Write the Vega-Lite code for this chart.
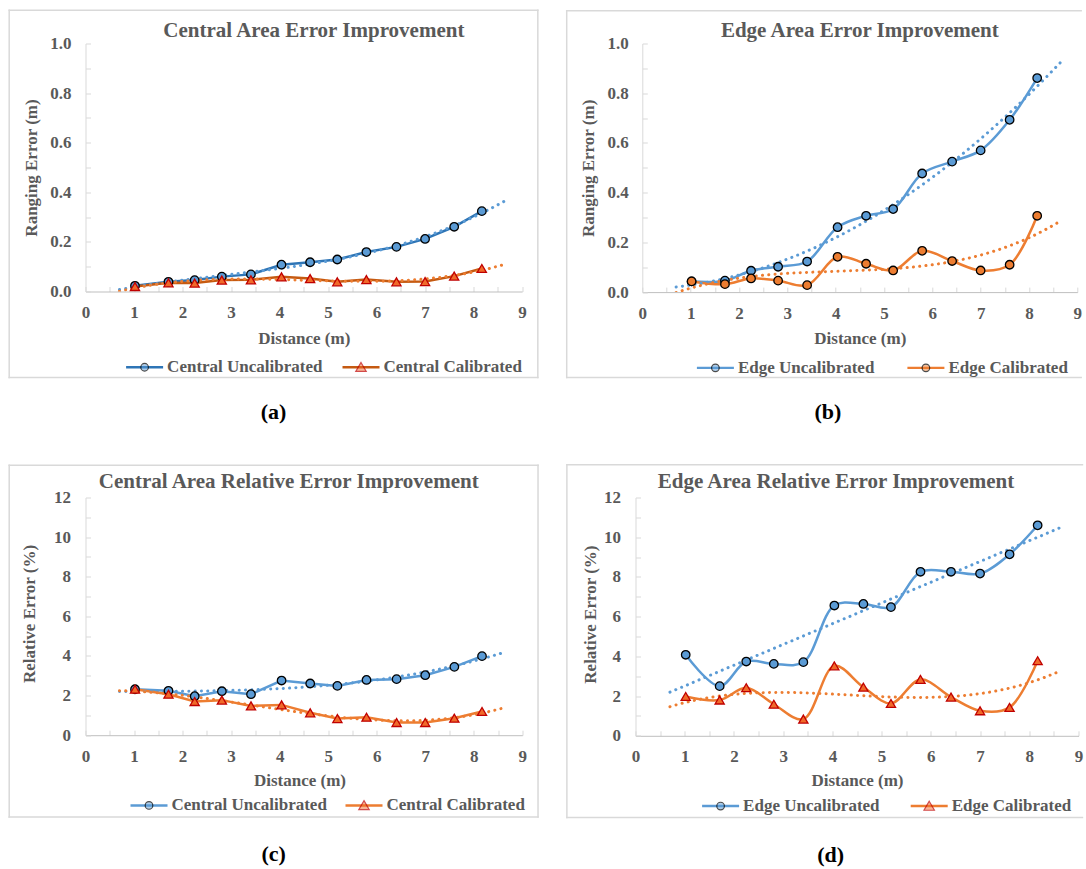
{
  "$schema": "https://vega.github.io/schema/vega-lite/v6.json",
  "background": "white",
  "padding": {"left": 7.5, "top": 8.5, "right": 0, "bottom": 0},
  "datasets": {
    "ca": [
      {"dist": 1.02, "val": 0.023, "series": "Central Uncalibrated"},
      {"dist": 1.71, "val": 0.039, "series": "Central Uncalibrated"},
      {"dist": 2.25, "val": 0.046, "series": "Central Uncalibrated"},
      {"dist": 2.81, "val": 0.060, "series": "Central Uncalibrated"},
      {"dist": 3.41, "val": 0.069, "series": "Central Uncalibrated"},
      {"dist": 4.04, "val": 0.108, "series": "Central Uncalibrated"},
      {"dist": 4.63, "val": 0.118, "series": "Central Uncalibrated"},
      {"dist": 5.19, "val": 0.129, "series": "Central Uncalibrated"},
      {"dist": 5.79, "val": 0.159, "series": "Central Uncalibrated"},
      {"dist": 6.41, "val": 0.180, "series": "Central Uncalibrated"},
      {"dist": 7.00, "val": 0.212, "series": "Central Uncalibrated"},
      {"dist": 7.60, "val": 0.261, "series": "Central Uncalibrated"},
      {"dist": 8.17, "val": 0.324, "series": "Central Uncalibrated"},
      {"dist": 1.02, "val": 0.020, "series": "Central Calibrated"},
      {"dist": 1.71, "val": 0.035, "series": "Central Calibrated"},
      {"dist": 2.25, "val": 0.034, "series": "Central Calibrated"},
      {"dist": 2.81, "val": 0.046, "series": "Central Calibrated"},
      {"dist": 3.41, "val": 0.047, "series": "Central Calibrated"},
      {"dist": 4.04, "val": 0.059, "series": "Central Calibrated"},
      {"dist": 4.63, "val": 0.052, "series": "Central Calibrated"},
      {"dist": 5.19, "val": 0.039, "series": "Central Calibrated"},
      {"dist": 5.79, "val": 0.048, "series": "Central Calibrated"},
      {"dist": 6.41, "val": 0.039, "series": "Central Calibrated"},
      {"dist": 7.00, "val": 0.040, "series": "Central Calibrated"},
      {"dist": 7.60, "val": 0.062, "series": "Central Calibrated"},
      {"dist": 8.17, "val": 0.093, "series": "Central Calibrated"}
    ],
    "ea": [
      {"dist": 1.02, "val": 0.043, "series": "Edge Uncalibrated"},
      {"dist": 1.71, "val": 0.046, "series": "Edge Uncalibrated"},
      {"dist": 2.25, "val": 0.086, "series": "Edge Uncalibrated"},
      {"dist": 2.81, "val": 0.102, "series": "Edge Uncalibrated"},
      {"dist": 3.41, "val": 0.123, "series": "Edge Uncalibrated"},
      {"dist": 4.04, "val": 0.261, "series": "Edge Uncalibrated"},
      {"dist": 4.63, "val": 0.307, "series": "Edge Uncalibrated"},
      {"dist": 5.19, "val": 0.334, "series": "Edge Uncalibrated"},
      {"dist": 5.79, "val": 0.477, "series": "Edge Uncalibrated"},
      {"dist": 6.41, "val": 0.525, "series": "Edge Uncalibrated"},
      {"dist": 7.00, "val": 0.570, "series": "Edge Uncalibrated"},
      {"dist": 7.60, "val": 0.693, "series": "Edge Uncalibrated"},
      {"dist": 8.17, "val": 0.861, "series": "Edge Uncalibrated"},
      {"dist": 1.02, "val": 0.043, "series": "Edge Calibrated"},
      {"dist": 1.71, "val": 0.032, "series": "Edge Calibrated"},
      {"dist": 2.25, "val": 0.055, "series": "Edge Calibrated"},
      {"dist": 2.81, "val": 0.046, "series": "Edge Calibrated"},
      {"dist": 3.41, "val": 0.028, "series": "Edge Calibrated"},
      {"dist": 4.04, "val": 0.142, "series": "Edge Calibrated"},
      {"dist": 4.63, "val": 0.114, "series": "Edge Calibrated"},
      {"dist": 5.19, "val": 0.087, "series": "Edge Calibrated"},
      {"dist": 5.79, "val": 0.166, "series": "Edge Calibrated"},
      {"dist": 6.41, "val": 0.125, "series": "Edge Calibrated"},
      {"dist": 7.00, "val": 0.087, "series": "Edge Calibrated"},
      {"dist": 7.60, "val": 0.110, "series": "Edge Calibrated"},
      {"dist": 8.17, "val": 0.307, "series": "Edge Calibrated"}
    ],
    "cr": [
      {"dist": 1.02, "val": 2.32, "series": "Central Uncalibrated"},
      {"dist": 1.71, "val": 2.24, "series": "Central Uncalibrated"},
      {"dist": 2.25, "val": 1.97, "series": "Central Uncalibrated"},
      {"dist": 2.81, "val": 2.22, "series": "Central Uncalibrated"},
      {"dist": 3.41, "val": 2.07, "series": "Central Uncalibrated"},
      {"dist": 4.04, "val": 2.76, "series": "Central Uncalibrated"},
      {"dist": 4.63, "val": 2.61, "series": "Central Uncalibrated"},
      {"dist": 5.19, "val": 2.49, "series": "Central Uncalibrated"},
      {"dist": 5.79, "val": 2.79, "series": "Central Uncalibrated"},
      {"dist": 6.41, "val": 2.83, "series": "Central Uncalibrated"},
      {"dist": 7.00, "val": 3.03, "series": "Central Uncalibrated"},
      {"dist": 7.60, "val": 3.45, "series": "Central Uncalibrated"},
      {"dist": 8.17, "val": 3.99, "series": "Central Uncalibrated"},
      {"dist": 1.02, "val": 2.32, "series": "Central Calibrated"},
      {"dist": 1.71, "val": 2.07, "series": "Central Calibrated"},
      {"dist": 2.25, "val": 1.70, "series": "Central Calibrated"},
      {"dist": 2.81, "val": 1.77, "series": "Central Calibrated"},
      {"dist": 3.41, "val": 1.48, "series": "Central Calibrated"},
      {"dist": 4.04, "val": 1.53, "series": "Central Calibrated"},
      {"dist": 4.63, "val": 1.13, "series": "Central Calibrated"},
      {"dist": 5.19, "val": 0.84, "series": "Central Calibrated"},
      {"dist": 5.79, "val": 0.91, "series": "Central Calibrated"},
      {"dist": 6.41, "val": 0.64, "series": "Central Calibrated"},
      {"dist": 7.00, "val": 0.64, "series": "Central Calibrated"},
      {"dist": 7.60, "val": 0.86, "series": "Central Calibrated"},
      {"dist": 8.17, "val": 1.20, "series": "Central Calibrated"}
    ],
    "er": [
      {"dist": 1.02, "val": 4.08, "series": "Edge Uncalibrated"},
      {"dist": 1.71, "val": 2.50, "series": "Edge Uncalibrated"},
      {"dist": 2.25, "val": 3.74, "series": "Edge Uncalibrated"},
      {"dist": 2.81, "val": 3.62, "series": "Edge Uncalibrated"},
      {"dist": 3.41, "val": 3.71, "series": "Edge Uncalibrated"},
      {"dist": 4.04, "val": 6.56, "series": "Edge Uncalibrated"},
      {"dist": 4.63, "val": 6.64, "series": "Edge Uncalibrated"},
      {"dist": 5.19, "val": 6.48, "series": "Edge Uncalibrated"},
      {"dist": 5.79, "val": 8.26, "series": "Edge Uncalibrated"},
      {"dist": 6.41, "val": 8.26, "series": "Edge Uncalibrated"},
      {"dist": 7.00, "val": 8.17, "series": "Edge Uncalibrated"},
      {"dist": 7.60, "val": 9.14, "series": "Edge Uncalibrated"},
      {"dist": 8.17, "val": 10.60, "series": "Edge Uncalibrated"},
      {"dist": 1.02, "val": 1.98, "series": "Edge Calibrated"},
      {"dist": 1.71, "val": 1.80, "series": "Edge Calibrated"},
      {"dist": 2.25, "val": 2.42, "series": "Edge Calibrated"},
      {"dist": 2.81, "val": 1.59, "series": "Edge Calibrated"},
      {"dist": 3.41, "val": 0.84, "series": "Edge Calibrated"},
      {"dist": 4.04, "val": 3.52, "series": "Edge Calibrated"},
      {"dist": 4.63, "val": 2.45, "series": "Edge Calibrated"},
      {"dist": 5.19, "val": 1.63, "series": "Edge Calibrated"},
      {"dist": 5.79, "val": 2.84, "series": "Edge Calibrated"},
      {"dist": 6.41, "val": 1.95, "series": "Edge Calibrated"},
      {"dist": 7.00, "val": 1.26, "series": "Edge Calibrated"},
      {"dist": 7.60, "val": 1.43, "series": "Edge Calibrated"},
      {"dist": 8.17, "val": 3.78, "series": "Edge Calibrated"}
    ]
  },
  "columns": 1,
  "align": "none",
  "spacing": 40,
  "resolve": {"scale": {"x": "independent", "y": "independent", "color": "independent", "shape": "independent", "fill": "independent", "stroke": "independent"}, "legend": {"color": "independent", "shape": "independent", "fill": "independent", "stroke": "independent"}},
  "concat": [
    {
      "spacing": 25.8,
      "resolve": {"scale": {"x": "independent", "y": "independent", "color": "independent", "shape": "independent", "fill": "independent", "stroke": "independent"}, "legend": {"color": "independent", "shape": "independent", "fill": "independent", "stroke": "independent"}},
      "hconcat": [
        {
          "title": {"text": "(a)", "orient": "bottom", "anchor": "middle", "baseline": "alphabetic", "offset": 40, "fontSize": 22, "color": "#000000"},
          "resolve": {"scale": {"x": "independent", "y": "independent", "color": "independent", "shape": "independent", "fill": "independent", "stroke": "independent"}, "legend": {"color": "independent", "shape": "independent", "fill": "independent", "stroke": "independent"}},
          "vconcat": [
            {
              "width": 436.6,
              "height": 248,
              "title": {"text": "Central Area Error Improvement", "anchor": "middle", "baseline": "alphabetic", "offset": -48.5, "dx": 10},
              "data": {"name": "ca"},
              "layer": [
                {"data": {"values": [{}]}, "mark": {"type": "rule", "color": "#d9d9d9", "strokeWidth": 1.5, "strokeCap": "square"}, "encoding": {"x": {"datum": -1.573}, "x2": {"datum": 9.324}, "y": {"datum": 1.134}}},
                {"data": {"values": [{}]}, "mark": {"type": "rule", "color": "#d9d9d9", "strokeWidth": 1.5, "strokeCap": "square"}, "encoding": {"x": {"datum": -1.573}, "x2": {"datum": 9.324}, "y": {"datum": -0.347}}},
                {"data": {"values": [{}]}, "mark": {"type": "rule", "color": "#d9d9d9", "strokeWidth": 1.5, "strokeCap": "square"}, "encoding": {"x": {"datum": -1.573}, "y": {"datum": 1.134}, "y2": {"datum": -0.347}}},
                {"data": {"values": [{}]}, "mark": {"type": "rule", "color": "#d9d9d9", "strokeWidth": 1.5, "strokeCap": "square"}, "encoding": {"x": {"datum": 9.324}, "y": {"datum": 1.134}, "y2": {"datum": -0.347}}},
                {
                  "mark": {"type": "line", "strokeWidth": 2.5, "interpolate": "linear"},
                  "encoding": {
                    "x": {"field": "dist", "type": "quantitative", "scale": {"domain": [0, 9], "nice": false, "zero": false},
                      "axis": {"title": "Distance (m)", "values": [0, 0.5, 1, 1.5, 2, 2.5, 3, 3.5, 4, 4.5, 5, 5.5, 6, 6.5, 7, 7.5, 8, 8.5, 9], "tickCount": 100, "labelExpr": "datum.value % 1 === 0 ? format(datum.value, 'd') : ''", "grid": false, "labelFlush": false, "labelOverlap": false, "labelPadding": 26.1, "labelBaseline": "middle", "titleY": 46.7, "titleBaseline": "middle", "domainColor": "#bfbfbf"}},
                    "y": {"field": "val", "type": "quantitative", "scale": {"domain": [0, 1], "nice": false},
                      "axis": {"title": "Ranging Error (m)", "values": [0, 0.1, 0.2, 0.3, 0.4, 0.5, 0.6, 0.7, 0.8, 0.9, 1], "tickCount": 100, "labelExpr": "round(datum.value * 10) % 2 === 0 ? format(datum.value, '.1f') : ''", "gridOpacity": {"condition": {"test": "round(datum.value * 10) % 2 === 0", "value": 1}, "value": 0}, "labelPadding": 19.5, "labelOverlap": false, "titleX": -53.7, "titleY": 124, "titleAngle": 270, "titleAlign": "center", "titleBaseline": "middle"}},
                    "color": {"field": "series", "type": "nominal", "scale": {"domain": ["Central Uncalibrated", "Central Calibrated"], "range": ["#2E75B6", "#C55A11"]},
                      "legend": {"title": null, "orient": "none", "legendX": 40.6, "legendY": 315, "direction": "horizontal", "columns": 2, "columnPadding": 19.4, "labelOffset": 24, "symbolSize": 64, "symbolStrokeWidth": 0,
                        "encode": {"symbols": {"update": {"shape": {"value": "M-2.125,-0.3H7.125V0.3H-2.125Z"}, "fill": {"signal": "datum.value === 'Central Uncalibrated' ? '#2E75B6' : '#C55A11'"}, "stroke": {"value": "transparent"}, "strokeWidth": {"value": 0}, "opacity": {"value": 1}}}}}}
                  }
                },
                {
                  "transform": [{"filter": "datum.series === 'Central Uncalibrated'"}, {"regression": "val", "on": "dist", "method": "poly", "order": 3, "extent": [0.7, 8.65]}],
                  "mark": {"type": "line", "color": "#5B9BD5", "strokeWidth": 3, "strokeDash": [0.1, 6.2], "strokeCap": "round", "clip": true},
                  "encoding": {"x": {"field": "dist", "type": "quantitative"}, "y": {"field": "val", "type": "quantitative"}}
                },
                {
                  "transform": [{"filter": "datum.series === 'Central Calibrated'"}, {"regression": "val", "on": "dist", "method": "poly", "order": 3, "extent": [0.7, 8.65]}],
                  "mark": {"type": "line", "color": "#ED7D31", "strokeWidth": 3, "strokeDash": [0.1, 6.2], "strokeCap": "round", "clip": true},
                  "encoding": {"x": {"field": "dist", "type": "quantitative"}, "y": {"field": "val", "type": "quantitative"}}
                },
                {
                  "transform": [{"filter": "datum.series === 'Central Uncalibrated'"}],
                  "mark": {"type": "point", "shape": "circle", "filled": true, "fill": "#5B9BD5", "stroke": "#000000", "size": 72, "strokeWidth": 1.3, "opacity": 1},
                  "encoding": {"x": {"field": "dist", "type": "quantitative"}, "y": {"field": "val", "type": "quantitative"}}
                },
                {
                  "transform": [{"filter": "datum.series === 'Central Calibrated'"}],
                  "mark": {"type": "point", "shape": "triangle-up", "filled": true, "fill": "#F06A2A", "stroke": "#C00000", "size": 84, "strokeWidth": 1.3, "opacity": 1},
                  "encoding": {"x": {"field": "dist", "type": "quantitative"}, "y": {"field": "val", "type": "quantitative"}}
                },
                {
                  "mark": {"type": "point", "filled": true, "size": 0, "strokeWidth": 1.2},
                  "encoding": {
                    "x": {"field": "dist", "type": "quantitative"},
                    "y": {"field": "val", "type": "quantitative"},
                    "shape": {"field": "series", "type": "nominal", "sort": "descending", "scale": {"range": ["M1.55,0A0.95,0.95,0,1,0,3.45,0A0.95,0.95,0,1,0,1.55,0Z", "M2.5,-1.2L3.8,1.05L1.2,1.05Z"]},
                      "legend": {"title": null, "orient": "none", "legendX": 40.6, "legendY": 315, "direction": "horizontal", "columns": 2, "columnPadding": 19.4, "labelOffset": 24, "labelOpacity": 0, "symbolSize": 64, "symbolStrokeWidth": 1.2}},
                    "fill": {"field": "series", "type": "nominal", "sort": "descending", "scale": {"range": ["#5B9BD5", "#F06A2A"]},
                      "legend": {"title": null, "orient": "none", "legendX": 40.6, "legendY": 315, "direction": "horizontal", "columns": 2, "columnPadding": 19.4, "labelOffset": 24, "labelOpacity": 0, "symbolSize": 64, "symbolStrokeWidth": 1.2}},
                    "stroke": {"field": "series", "type": "nominal", "sort": "descending", "scale": {"range": ["#000000", "#C00000"]},
                      "legend": {"title": null, "orient": "none", "legendX": 40.6, "legendY": 315, "direction": "horizontal", "columns": 2, "columnPadding": 19.4, "labelOffset": 24, "labelOpacity": 0, "symbolSize": 64, "symbolStrokeWidth": 1.2}}
                  }
                }
              ]
            }
          ]
        },
        {
          "title": {"text": "(b)", "orient": "bottom", "anchor": "middle", "baseline": "alphabetic", "offset": 40.5, "fontSize": 22, "color": "#000000", "dx": 4},
          "resolve": {"scale": {"x": "independent", "y": "independent", "color": "independent", "shape": "independent", "fill": "independent", "stroke": "independent"}, "legend": {"color": "independent", "shape": "independent", "fill": "independent", "stroke": "independent"}},
          "vconcat": [
            {
              "width": 435,
              "height": 248.6,
              "title": {"text": "Edge Area Error Improvement", "anchor": "middle", "baseline": "alphabetic", "offset": -48.5, "dx": 0},
              "data": {"name": "ea"},
              "layer": [
                {"data": {"values": [{}]}, "mark": {"type": "rule", "color": "#d9d9d9", "strokeWidth": 1.5, "strokeCap": "square"}, "encoding": {"x": {"datum": -1.564}, "x2": {"datum": 9.08}, "y": {"datum": 1.1316}}},
                {"data": {"values": [{}]}, "mark": {"type": "rule", "color": "#d9d9d9", "strokeWidth": 1.5, "strokeCap": "square"}, "encoding": {"x": {"datum": -1.564}, "x2": {"datum": 9.08}, "y": {"datum": -0.3435}}},
                {"data": {"values": [{}]}, "mark": {"type": "rule", "color": "#d9d9d9", "strokeWidth": 1.5, "strokeCap": "square"}, "encoding": {"x": {"datum": -1.564}, "y": {"datum": 1.1316}, "y2": {"datum": -0.3435}}},
                {
                  "mark": {"type": "line", "strokeWidth": 2.5, "interpolate": "catmull-rom"},
                  "encoding": {
                    "x": {"field": "dist", "type": "quantitative", "scale": {"domain": [0, 9], "nice": false, "zero": false},
                      "axis": {"title": "Distance (m)", "values": [0, 0.5, 1, 1.5, 2, 2.5, 3, 3.5, 4, 4.5, 5, 5.5, 6, 6.5, 7, 7.5, 8, 8.5, 9], "tickCount": 100, "labelExpr": "datum.value % 1 === 0 ? format(datum.value, 'd') : ''", "grid": false, "labelFlush": false, "labelOverlap": false, "labelPadding": 26.1, "labelBaseline": "middle", "titleY": 46, "titleBaseline": "middle", "domainColor": "#bfbfbf"}},
                    "y": {"field": "val", "type": "quantitative", "scale": {"domain": [0, 1], "nice": false},
                      "axis": {"title": "Ranging Error (m)", "values": [0, 0.1, 0.2, 0.3, 0.4, 0.5, 0.6, 0.7, 0.8, 0.9, 1], "tickCount": 100, "labelExpr": "round(datum.value * 10) % 2 === 0 ? format(datum.value, '.1f') : ''", "gridOpacity": {"condition": {"test": "round(datum.value * 10) % 2 === 0", "value": 1}, "value": 0}, "labelPadding": 19, "labelOverlap": false, "titleX": -53.8, "titleY": 124.3, "titleAngle": 270, "titleAlign": "center", "titleBaseline": "middle"}},
                    "color": {"field": "series", "type": "nominal", "scale": {"domain": ["Edge Uncalibrated", "Edge Calibrated"], "range": ["#5B9BD5", "#ED7D31"]},
                      "legend": {"title": null, "orient": "none", "legendX": 54.6, "legendY": 315.6, "direction": "horizontal", "columns": 2, "columnPadding": 32.5, "labelOffset": 24, "symbolSize": 64, "symbolStrokeWidth": 0,
                        "encode": {"symbols": {"update": {"shape": {"value": "M-2.125,-0.3H7.125V0.3H-2.125Z"}, "fill": {"signal": "datum.value === 'Edge Uncalibrated' ? '#5B9BD5' : '#ED7D31'"}, "stroke": {"value": "transparent"}, "strokeWidth": {"value": 0}, "opacity": {"value": 1}}}}}}
                  }
                },
                {
                  "transform": [{"filter": "datum.series === 'Edge Uncalibrated'"}, {"regression": "val", "on": "dist", "method": "poly", "order": 2, "extent": [0.7, 8.65]}],
                  "mark": {"type": "line", "color": "#5B9BD5", "strokeWidth": 3, "strokeDash": [0.1, 6.2], "strokeCap": "round", "clip": true},
                  "encoding": {"x": {"field": "dist", "type": "quantitative"}, "y": {"field": "val", "type": "quantitative"}}
                },
                {
                  "transform": [{"filter": "datum.series === 'Edge Calibrated'"}, {"regression": "val", "on": "dist", "method": "poly", "order": 3, "extent": [0.7, 8.65]}],
                  "mark": {"type": "line", "color": "#ED7D31", "strokeWidth": 3, "strokeDash": [0.1, 6.2], "strokeCap": "round", "clip": true},
                  "encoding": {"x": {"field": "dist", "type": "quantitative"}, "y": {"field": "val", "type": "quantitative"}}
                },
                {
                  "transform": [{"filter": "datum.series === 'Edge Uncalibrated'"}],
                  "mark": {"type": "point", "shape": "circle", "filled": true, "fill": "#5B9BD5", "stroke": "#000000", "size": 72, "strokeWidth": 1.3, "opacity": 1},
                  "encoding": {"x": {"field": "dist", "type": "quantitative"}, "y": {"field": "val", "type": "quantitative"}}
                },
                {
                  "transform": [{"filter": "datum.series === 'Edge Calibrated'"}],
                  "mark": {"type": "point", "shape": "circle", "filled": true, "fill": "#ED7D31", "stroke": "#000000", "size": 72, "strokeWidth": 1.3, "opacity": 1},
                  "encoding": {"x": {"field": "dist", "type": "quantitative"}, "y": {"field": "val", "type": "quantitative"}}
                },
                {
                  "mark": {"type": "point", "filled": true, "size": 0, "strokeWidth": 1.2},
                  "encoding": {
                    "x": {"field": "dist", "type": "quantitative"},
                    "y": {"field": "val", "type": "quantitative"},
                    "shape": {"field": "series", "type": "nominal", "sort": "descending", "scale": {"range": ["M1.55,0A0.95,0.95,0,1,0,3.45,0A0.95,0.95,0,1,0,1.55,0Z", "M1.55,0A0.95,0.95,0,1,0,3.45,0A0.95,0.95,0,1,0,1.55,0Z"]},
                      "legend": {"title": null, "orient": "none", "legendX": 54.6, "legendY": 315.6, "direction": "horizontal", "columns": 2, "columnPadding": 32.5, "labelOffset": 24, "labelOpacity": 0, "symbolSize": 64, "symbolStrokeWidth": 1.2}},
                    "fill": {"field": "series", "type": "nominal", "sort": "descending", "scale": {"range": ["#5B9BD5", "#ED7D31"]},
                      "legend": {"title": null, "orient": "none", "legendX": 54.6, "legendY": 315.6, "direction": "horizontal", "columns": 2, "columnPadding": 32.5, "labelOffset": 24, "labelOpacity": 0, "symbolSize": 64, "symbolStrokeWidth": 1.2}},
                    "stroke": {"field": "series", "type": "nominal", "sort": "descending", "scale": {"range": ["#000000", "#000000"]},
                      "legend": {"title": null, "orient": "none", "legendX": 54.6, "legendY": 315.6, "direction": "horizontal", "columns": 2, "columnPadding": 32.5, "labelOffset": 24, "labelOpacity": 0, "symbolSize": 64, "symbolStrokeWidth": 1.2}}
                  }
                }
              ]
            }
          ]
        }
      ]
    },
    {
      "spacing": 26,
      "resolve": {"scale": {"x": "independent", "y": "independent", "color": "independent", "shape": "independent", "fill": "independent", "stroke": "independent"}, "legend": {"color": "independent", "shape": "independent", "fill": "independent", "stroke": "independent"}},
      "hconcat": [
        {
          "title": {"text": "(c)", "orient": "bottom", "anchor": "middle", "baseline": "alphabetic", "offset": 43.3, "fontSize": 22, "color": "#000000"},
          "resolve": {"scale": {"x": "independent", "y": "independent", "color": "independent", "shape": "independent", "fill": "independent", "stroke": "independent"}, "legend": {"color": "independent", "shape": "independent", "fill": "independent", "stroke": "independent"}},
          "vconcat": [
            {
              "width": 436.8,
              "height": 237.7,
              "title": {"text": "Central Area Relative Error Improvement", "anchor": "middle", "baseline": "alphabetic", "offset": -44.7, "dx": -15.2},
              "data": {"name": "cr"},
              "layer": [
                {"data": {"values": [{}]}, "mark": {"type": "rule", "color": "#d9d9d9", "strokeWidth": 1.5, "strokeCap": "square"}, "encoding": {"x": {"datum": -1.572}, "x2": {"datum": 9.324}, "y": {"datum": 13.63}}},
                {"data": {"values": [{}]}, "mark": {"type": "rule", "color": "#d9d9d9", "strokeWidth": 1.5, "strokeCap": "square"}, "encoding": {"x": {"datum": -1.572}, "x2": {"datum": 9.324}, "y": {"datum": -4.124}}},
                {"data": {"values": [{}]}, "mark": {"type": "rule", "color": "#d9d9d9", "strokeWidth": 1.5, "strokeCap": "square"}, "encoding": {"x": {"datum": -1.572}, "y": {"datum": 13.63}, "y2": {"datum": -4.124}}},
                {"data": {"values": [{}]}, "mark": {"type": "rule", "color": "#d9d9d9", "strokeWidth": 1.5, "strokeCap": "square"}, "encoding": {"x": {"datum": 9.324}, "y": {"datum": 13.63}, "y2": {"datum": -4.124}}},
                {
                  "mark": {"type": "line", "strokeWidth": 2.5, "interpolate": "linear"},
                  "encoding": {
                    "x": {"field": "dist", "type": "quantitative", "scale": {"domain": [0, 9], "nice": false, "zero": false},
                      "axis": {"title": "Distance (m)", "values": [0, 0.5, 1, 1.5, 2, 2.5, 3, 3.5, 4, 4.5, 5, 5.5, 6, 6.5, 7, 7.5, 8, 8.5, 9], "tickCount": 100, "labelExpr": "datum.value % 1 === 0 ? format(datum.value, 'd') : ''", "grid": false, "labelFlush": false, "labelOverlap": false, "labelPadding": 26.1, "labelBaseline": "middle", "titleX": 214, "titleY": 45, "titleAlign": "center", "titleBaseline": "middle", "domainColor": "#bfbfbf"}},
                    "y": {"field": "val", "type": "quantitative", "scale": {"domain": [0, 12], "nice": false},
                      "axis": {"title": "Relative Error (%)", "values": [0, 1, 2, 3, 4, 5, 6, 7, 8, 9, 10, 11, 12], "tickCount": 100, "labelExpr": "datum.value % 2 === 0 ? format(datum.value, 'd') : ''", "gridOpacity": {"condition": {"test": "datum.value % 2 === 0", "value": 1}, "value": 0}, "labelPadding": 20, "labelOverlap": false, "titleX": -55.7, "titleY": 116, "titleAngle": 270, "titleAlign": "center", "titleBaseline": "middle"}},
                    "color": {"field": "series", "type": "nominal", "scale": {"domain": ["Central Uncalibrated", "Central Calibrated"], "range": ["#5B9BD5", "#ED7D31"]},
                      "legend": {"title": null, "orient": "none", "legendX": 45, "legendY": 299.2, "direction": "horizontal", "columns": 2, "columnPadding": 18, "labelOffset": 24, "symbolSize": 64, "symbolStrokeWidth": 0,
                        "encode": {"symbols": {"update": {"shape": {"value": "M-2.125,-0.3H7.125V0.3H-2.125Z"}, "fill": {"signal": "datum.value === 'Central Uncalibrated' ? '#5B9BD5' : '#ED7D31'"}, "stroke": {"value": "transparent"}, "strokeWidth": {"value": 0}, "opacity": {"value": 1}}}}}}
                  }
                },
                {
                  "transform": [{"filter": "datum.series === 'Central Uncalibrated'"}, {"regression": "val", "on": "dist", "method": "poly", "order": 3, "extent": [0.7, 8.65]}],
                  "mark": {"type": "line", "color": "#5B9BD5", "strokeWidth": 3, "strokeDash": [0.1, 6.2], "strokeCap": "round", "clip": true},
                  "encoding": {"x": {"field": "dist", "type": "quantitative"}, "y": {"field": "val", "type": "quantitative"}}
                },
                {
                  "transform": [{"filter": "datum.series === 'Central Calibrated'"}, {"regression": "val", "on": "dist", "method": "poly", "order": 3, "extent": [0.7, 8.65]}],
                  "mark": {"type": "line", "color": "#ED7D31", "strokeWidth": 3, "strokeDash": [0.1, 6.2], "strokeCap": "round", "clip": true},
                  "encoding": {"x": {"field": "dist", "type": "quantitative"}, "y": {"field": "val", "type": "quantitative"}}
                },
                {
                  "transform": [{"filter": "datum.series === 'Central Uncalibrated'"}],
                  "mark": {"type": "point", "shape": "circle", "filled": true, "fill": "#5B9BD5", "stroke": "#000000", "size": 72, "strokeWidth": 1.3, "opacity": 1},
                  "encoding": {"x": {"field": "dist", "type": "quantitative"}, "y": {"field": "val", "type": "quantitative"}}
                },
                {
                  "transform": [{"filter": "datum.series === 'Central Calibrated'"}],
                  "mark": {"type": "point", "shape": "triangle-up", "filled": true, "fill": "#F06A2A", "stroke": "#C00000", "size": 84, "strokeWidth": 1.3, "opacity": 1},
                  "encoding": {"x": {"field": "dist", "type": "quantitative"}, "y": {"field": "val", "type": "quantitative"}}
                },
                {
                  "mark": {"type": "point", "filled": true, "size": 0, "strokeWidth": 1.2},
                  "encoding": {
                    "x": {"field": "dist", "type": "quantitative"},
                    "y": {"field": "val", "type": "quantitative"},
                    "shape": {"field": "series", "type": "nominal", "sort": "descending", "scale": {"range": ["M1.55,0A0.95,0.95,0,1,0,3.45,0A0.95,0.95,0,1,0,1.55,0Z", "M2.5,-1.2L3.8,1.05L1.2,1.05Z"]},
                      "legend": {"title": null, "orient": "none", "legendX": 45, "legendY": 299.2, "direction": "horizontal", "columns": 2, "columnPadding": 18, "labelOffset": 24, "labelOpacity": 0, "symbolSize": 64, "symbolStrokeWidth": 1.2}},
                    "fill": {"field": "series", "type": "nominal", "sort": "descending", "scale": {"range": ["#5B9BD5", "#F06A2A"]},
                      "legend": {"title": null, "orient": "none", "legendX": 45, "legendY": 299.2, "direction": "horizontal", "columns": 2, "columnPadding": 18, "labelOffset": 24, "labelOpacity": 0, "symbolSize": 64, "symbolStrokeWidth": 1.2}},
                    "stroke": {"field": "series", "type": "nominal", "sort": "descending", "scale": {"range": ["#000000", "#C00000"]},
                      "legend": {"title": null, "orient": "none", "legendX": 45, "legendY": 299.2, "direction": "horizontal", "columns": 2, "columnPadding": 18, "labelOffset": 24, "labelOpacity": 0, "symbolSize": 64, "symbolStrokeWidth": 1.2}}
                  }
                }
              ]
            }
          ]
        },
        {
          "title": {"text": "(d)", "orient": "bottom", "anchor": "middle", "baseline": "alphabetic", "offset": 43.3, "fontSize": 22, "color": "#000000", "dx": 6},
          "resolve": {"scale": {"x": "independent", "y": "independent", "color": "independent", "shape": "independent", "fill": "independent", "stroke": "independent"}, "legend": {"color": "independent", "shape": "independent", "fill": "independent", "stroke": "independent"}},
          "vconcat": [
            {
              "width": 443,
              "height": 238.3,
              "title": {"text": "Edge Area Relative Error Improvement", "anchor": "middle", "baseline": "alphabetic", "offset": -45, "dx": -21},
              "data": {"name": "er"},
              "layer": [
                {"data": {"values": [{}]}, "mark": {"type": "rule", "color": "#d9d9d9", "strokeWidth": 1.5, "strokeCap": "square"}, "encoding": {"x": {"datum": -1.394}, "x2": {"datum": 9.08}, "y": {"datum": 13.65}}},
                {"data": {"values": [{}]}, "mark": {"type": "rule", "color": "#d9d9d9", "strokeWidth": 1.5, "strokeCap": "square"}, "encoding": {"x": {"datum": -1.394}, "x2": {"datum": 9.08}, "y": {"datum": -4.114}}},
                {"data": {"values": [{}]}, "mark": {"type": "rule", "color": "#d9d9d9", "strokeWidth": 1.5, "strokeCap": "square"}, "encoding": {"x": {"datum": -1.394}, "y": {"datum": 13.65}, "y2": {"datum": -4.114}}},
                {
                  "mark": {"type": "line", "strokeWidth": 2.5, "interpolate": "catmull-rom"},
                  "encoding": {
                    "x": {"field": "dist", "type": "quantitative", "scale": {"domain": [0, 9], "nice": false, "zero": false},
                      "axis": {"title": "Distance (m)", "values": [0, 0.5, 1, 1.5, 2, 2.5, 3, 3.5, 4, 4.5, 5, 5.5, 6, 6.5, 7, 7.5, 8, 8.5, 9], "tickCount": 100, "labelExpr": "datum.value % 1 === 0 ? format(datum.value, 'd') : ''", "grid": false, "labelFlush": false, "labelOverlap": false, "labelPadding": 26.1, "labelBaseline": "middle", "titleY": 45, "titleBaseline": "middle", "domainColor": "#bfbfbf"}},
                    "y": {"field": "val", "type": "quantitative", "scale": {"domain": [0, 12], "nice": false},
                      "axis": {"title": "Relative Error (%)", "values": [0, 1, 2, 3, 4, 5, 6, 7, 8, 9, 10, 11, 12], "tickCount": 100, "labelExpr": "datum.value % 2 === 0 ? format(datum.value, 'd') : ''", "gridOpacity": {"condition": {"test": "datum.value % 2 === 0", "value": 1}, "value": 0}, "labelPadding": 20, "labelOverlap": false, "titleX": -45.5, "titleY": 116.6, "titleAngle": 270, "titleAlign": "center", "titleBaseline": "middle"}},
                    "color": {"field": "series", "type": "nominal", "scale": {"domain": ["Edge Uncalibrated", "Edge Calibrated"], "range": ["#5B9BD5", "#ED7D31"]},
                      "legend": {"title": null, "orient": "none", "legendX": 66.6, "legendY": 299.8, "direction": "horizontal", "columns": 2, "columnPadding": 30.6, "labelOffset": 24, "symbolSize": 64, "symbolStrokeWidth": 0,
                        "encode": {"symbols": {"update": {"shape": {"value": "M-2.125,-0.3H7.125V0.3H-2.125Z"}, "fill": {"signal": "datum.value === 'Edge Uncalibrated' ? '#5B9BD5' : '#ED7D31'"}, "stroke": {"value": "transparent"}, "strokeWidth": {"value": 0}, "opacity": {"value": 1}}}}}}
                  }
                },
                {
                  "transform": [{"filter": "datum.series === 'Edge Uncalibrated'"}, {"regression": "val", "on": "dist", "method": "linear", "extent": [0.7, 8.65]}],
                  "mark": {"type": "line", "color": "#5B9BD5", "strokeWidth": 3, "strokeDash": [0.1, 6.2], "strokeCap": "round", "clip": true},
                  "encoding": {"x": {"field": "dist", "type": "quantitative"}, "y": {"field": "val", "type": "quantitative"}}
                },
                {
                  "transform": [{"filter": "datum.series === 'Edge Calibrated'"}, {"regression": "val", "on": "dist", "method": "poly", "order": 3, "extent": [0.7, 8.65]}],
                  "mark": {"type": "line", "color": "#ED7D31", "strokeWidth": 3, "strokeDash": [0.1, 6.2], "strokeCap": "round", "clip": true},
                  "encoding": {"x": {"field": "dist", "type": "quantitative"}, "y": {"field": "val", "type": "quantitative"}}
                },
                {
                  "transform": [{"filter": "datum.series === 'Edge Uncalibrated'"}],
                  "mark": {"type": "point", "shape": "circle", "filled": true, "fill": "#5B9BD5", "stroke": "#000000", "size": 72, "strokeWidth": 1.3, "opacity": 1},
                  "encoding": {"x": {"field": "dist", "type": "quantitative"}, "y": {"field": "val", "type": "quantitative"}}
                },
                {
                  "transform": [{"filter": "datum.series === 'Edge Calibrated'"}],
                  "mark": {"type": "point", "shape": "triangle-up", "filled": true, "fill": "#F06A2A", "stroke": "#C00000", "size": 84, "strokeWidth": 1.3, "opacity": 1},
                  "encoding": {"x": {"field": "dist", "type": "quantitative"}, "y": {"field": "val", "type": "quantitative"}}
                },
                {
                  "mark": {"type": "point", "filled": true, "size": 0, "strokeWidth": 1.2},
                  "encoding": {
                    "x": {"field": "dist", "type": "quantitative"},
                    "y": {"field": "val", "type": "quantitative"},
                    "shape": {"field": "series", "type": "nominal", "sort": "descending", "scale": {"range": ["M1.55,0A0.95,0.95,0,1,0,3.45,0A0.95,0.95,0,1,0,1.55,0Z", "M2.5,-1.2L3.8,1.05L1.2,1.05Z"]},
                      "legend": {"title": null, "orient": "none", "legendX": 66.6, "legendY": 299.8, "direction": "horizontal", "columns": 2, "columnPadding": 30.6, "labelOffset": 24, "labelOpacity": 0, "symbolSize": 64, "symbolStrokeWidth": 1.2}},
                    "fill": {"field": "series", "type": "nominal", "sort": "descending", "scale": {"range": ["#5B9BD5", "#F06A2A"]},
                      "legend": {"title": null, "orient": "none", "legendX": 66.6, "legendY": 299.8, "direction": "horizontal", "columns": 2, "columnPadding": 30.6, "labelOffset": 24, "labelOpacity": 0, "symbolSize": 64, "symbolStrokeWidth": 1.2}},
                    "stroke": {"field": "series", "type": "nominal", "sort": "descending", "scale": {"range": ["#000000", "#C00000"]},
                      "legend": {"title": null, "orient": "none", "legendX": 66.6, "legendY": 299.8, "direction": "horizontal", "columns": 2, "columnPadding": 30.6, "labelOffset": 24, "labelOpacity": 0, "symbolSize": 64, "symbolStrokeWidth": 1.2}}
                  }
                }
              ]
            }
          ]
        }
      ]
    }
  ],
  "config": {
    "view": {"stroke": null},
    "font": "Liberation Serif",
    "axis": {
      "labelFont": "Liberation Serif", "labelFontSize": 17, "labelFontWeight": "bold", "labelColor": "#595959",
      "titleFont": "Liberation Serif", "titleFontSize": 17, "titleFontWeight": "bold", "titleColor": "#595959",
      "domainColor": "#d9d9d9", "domainWidth": 1, "tickColor": "#d9d9d9", "tickSize": -5, "tickWidth": 1,
      "gridColor": "#d9d9d9", "gridWidth": 1
    },
    "legend": {"labelFont": "Liberation Serif", "labelFontSize": 17, "labelFontWeight": "bold", "labelColor": "#595959", "labelLimit": 400, "padding": 0, "offset": 0, "symbolOffset": 0},
    "title": {"font": "Liberation Serif", "fontSize": 21, "fontWeight": "bold", "color": "#595959"}
  }
}
